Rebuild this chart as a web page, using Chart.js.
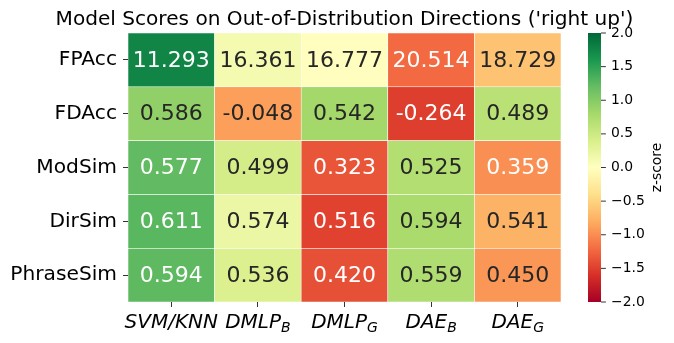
<!DOCTYPE html>
<html>
<head>
<meta charset="utf-8">
<script src="https://cdn.jsdelivr.net/npm/chart.js@4.4.1/dist/chart.umd.min.js"></script>
<style>
  html, body { margin: 0; padding: 0; background: #fff; }
  #wrap { width: 674px; height: 343px; position: relative; }
</style>
</head>
<body>
<div id="wrap"><canvas id="heat"></canvas></div>
<script>
const rowNames = ['FPAcc', 'FDAcc', 'ModSim', 'DirSim', 'PhraseSim'];
const colNames = ['SVM/KNN', 'DMLP', 'DMLP', 'DAE', 'DAE'];
const colSubs = ['', 'B', 'G', 'B', 'G'];

// cell values (annotations)
const fpacc = [11.293, 16.361, 16.777, 20.514, 18.729];
const fdacc = [0.586, -0.048, 0.542, -0.264, 0.489];
const modsim = [0.577, 0.499, 0.323, 0.525, 0.359];
const dirsim = [0.611, 0.574, 0.516, 0.594, 0.541];
const phrasesim = [0.594, 0.536, 0.420, 0.559, 0.450];

// z-scores (FPAcc flipped, lower is better)
const fpaccZ = [1.76, 0.12, -0.01, -1.22, -0.64];
const fdaccZ = [0.93, -0.89, 0.81, -1.51, 0.65];
const modsimZ = [1.22, 0.43, -1.36, 0.70, -0.99];
const dirsimZ = [1.27, 0.20, -1.48, 0.77, -0.76];
const phrasesimZ = [1.24, 0.37, -1.39, 0.72, -0.94];

const cbTicks = [2, 1.5, 1, 0.5, 0, -0.5, -1, -1.5, -2];

const values = [fpacc, fdacc, modsim, dirsim, phrasesim];
const zScores = [fpaccZ, fdaccZ, modsimZ, dirsimZ, phrasesimZ];

// RdYlGn colour stops
const rdylgn = [[165,0,38],[215,48,39],[244,109,67],[253,174,97],[254,224,139],[255,255,191],
  [217,239,139],[166,217,106],[102,189,99],[26,152,80],[0,104,55]];

function cmap(z) {
  let t = Math.min(1, Math.max(0, (z + 2) / 4)) * 10;
  let i = Math.min(9, Math.floor(t));
  let f = t - i;
  let a = rdylgn[i], b = rdylgn[i + 1];
  return a.map((v, k) => Math.round(v + (b[k] - v) * f));
}
function rgbStr(c) { return 'rgb(' + c.join(',') + ')'; }
function textColor(c) {
  let lin = c.map(v => { v = v / 255; return v <= 0.03928 ? v / 12.92 : Math.pow((v + 0.055) / 1.055, 2.4); });
  let lum = 0.2126 * lin[0] + 0.7152 * lin[1] + 0.0722 * lin[2];
  return lum > 0.408 ? '#262626' : '#ffffff';
}

const datasets = rowNames.map((name, r) => ({
  label: name,
  data: zScores[r].map(() => [r, r + 1]),
  backgroundColor: zScores[r].map(z => rgbStr(cmap(z))),
  borderColor: '#ffffff',
  borderWidth: 0.6,
  borderSkipped: false,
  grouped: false,
  barPercentage: 1,
  categoryPercentage: 1
}));

const FONT = "'DejaVu Sans', sans-serif";

const heatPlugin = {
  id: 'heatExtras',
  afterDatasetsDraw(chart) {
    const ctx = chart.ctx;
    ctx.save();
    ctx.font = '22px ' + FONT;
    ctx.textAlign = 'center';
    ctx.textBaseline = 'middle';
    chart.data.datasets.forEach((ds, r) => {
      const meta = chart.getDatasetMeta(r);
      meta.data.forEach((bar, c) => {
        const p = bar.getCenterPoint();
        ctx.fillStyle = textColor(cmap(zScores[r][c]));
        ctx.fillText(values[r][c].toFixed(3), p.x, p.y + 1);
      });
    });
    ctx.restore();
  },
  afterDraw(chart) {
    const ctx = chart.ctx;
    const area = chart.chartArea;
    const xs = chart.scales.x;
    ctx.save();

    // title
    ctx.fillStyle = '#000';
    ctx.font = '20.1px ' + FONT;
    ctx.textAlign = 'center';
    ctx.textBaseline = 'alphabetic';
    ctx.fillText("Model Scores on Out-of-Distribution Directions ('right up')", (area.left + area.right) / 2, 25);

    // x labels with subscripts
    ctx.textAlign = 'left';
    colNames.forEach((name, i) => {
      const cx = xs.getPixelForTick(i);
      ctx.font = 'italic 20px ' + FONT;
      const w1 = ctx.measureText(name).width;
      ctx.font = 'italic 14px ' + FONT;
      const w2 = colSubs[i] ? ctx.measureText(colSubs[i]).width : 0;
      const x0 = cx - (w1 + w2) / 2;
      ctx.font = 'italic 20px ' + FONT;
      ctx.fillText(name, x0, 328);
      if (colSubs[i]) {
        ctx.font = 'italic 14px ' + FONT;
        ctx.fillText(colSubs[i], x0 + w1, 332);
      }
    });

    // colour bar
    const cbL = 588, cbR = 601;
    const grad = ctx.createLinearGradient(0, area.top, 0, area.bottom);
    rdylgn.forEach((c, i) => grad.addColorStop(1 - i / 10, rgbStr(c)));
    ctx.fillStyle = grad;
    ctx.fillRect(cbL, area.top, cbR - cbL, area.bottom - area.top);
    ctx.strokeStyle = '#000';
    ctx.lineWidth = 0.8;
    ctx.fillStyle = '#000';
    ctx.font = '13.9px ' + FONT;
    ctx.textBaseline = 'middle';
    cbTicks.forEach(t => {
      const y = area.top + (2 - t) / 4 * (area.bottom - area.top);
      ctx.beginPath();
      ctx.moveTo(cbR, y);
      ctx.lineTo(cbR + 4.9, y);
      ctx.stroke();
      const lab = (t < 0 ? '\u2212' : '') + Math.abs(t).toFixed(1);
      ctx.fillText(lab, cbR + 10, y);
    });
    ctx.translate(657, (area.top + area.bottom) / 2);
    ctx.rotate(-Math.PI / 2);
    ctx.textAlign = 'center';
    ctx.fillText('z-score', 0, 0);
    ctx.restore();
  }
};

new Chart(document.getElementById('heat'), {
  type: 'bar',
  data: {
    labels: colNames.map((n, i) => n + colSubs[i]),
    datasets: datasets
  },
  options: {
    responsive: true,
    maintainAspectRatio: false,
    animation: false,
    layout: { padding: { top: 33, right: 113, bottom: 0, left: 0 } },
    plugins: {
      legend: { display: false },
      tooltip: { enabled: false },
      title: { display: false }
    },
    scales: {
      x: {
        type: 'category',
        offset: true,
        border: { display: false },
        grid: { display: true, offset: false, drawOnChartArea: false, drawTicks: true, tickLength: 5, color: '#000', lineWidth: 0.8 },
        ticks: { display: false },
        afterFit(s) { s.height = 41; }
      },
      y: {
        type: 'linear',
        min: 0,
        max: 5,
        reverse: true,
        border: { display: false },
        grid: { display: true, drawOnChartArea: false, drawTicks: true, tickLength: 5, color: '#000', lineWidth: 0.8 },
        afterBuildTicks(s) { s.ticks = rowNames.map((n, i) => ({ value: i + 0.5 })); },
        ticks: {
          color: '#000',
          padding: 6,
          font: { family: FONT, size: 20.2 },
          callback: v => rowNames[Math.floor(v)]
        },
        afterFit(s) { s.width = 128; }
      }
    }
  },
  plugins: [heatPlugin]
});
</script>
</body>
</html>
